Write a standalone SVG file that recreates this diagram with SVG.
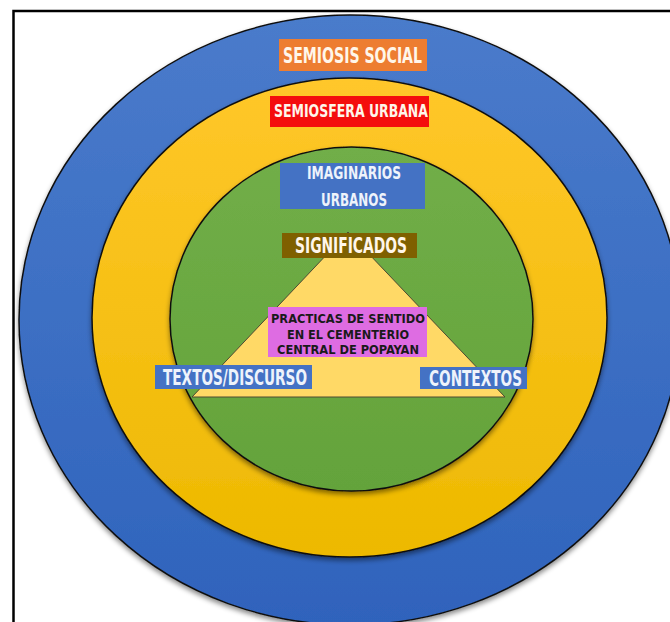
<svg xmlns="http://www.w3.org/2000/svg" width="670" height="622" viewBox="0 0 670 622">
  <defs>
    <linearGradient id="gBlue" x1="0" y1="0" x2="0" y2="1">
      <stop offset="0" stop-color="#4A7BCB"/>
      <stop offset="1" stop-color="#2F63BC"/>
    </linearGradient>
    <linearGradient id="gYellow" x1="0" y1="0" x2="0" y2="1">
      <stop offset="0" stop-color="#FFC72A"/>
      <stop offset="1" stop-color="#EDB900"/>
    </linearGradient>
    <linearGradient id="gGreen" x1="0" y1="0" x2="0" y2="1">
      <stop offset="0" stop-color="#71AE48"/>
      <stop offset="1" stop-color="#64A33B"/>
    </linearGradient>
    <filter id="shadow" x="-10%" y="-10%" width="120%" height="125%">
      <feDropShadow dx="0" dy="3" stdDeviation="2.5" flood-color="#000" flood-opacity="0.45"/>
    </filter>
  </defs>
  <style>
    .ring { stroke: #111; stroke-width: 1.5; filter: url(#shadow); }
    .lbl { font-family: 'Liberation Sans Narrow', 'DejaVu Sans Condensed', 'Liberation Sans', sans-serif; font-weight: bold; text-anchor: middle; }
    .light { fill: #FFF6EA; }
    .lightb { fill: #EEF3FB; }
    .dark { fill: #1A1A1A; }
  </style>
  <rect x="0" y="0" width="670" height="622" fill="#FFFFFF"/>
  <path d="M13.5,622 V11 H670" fill="none" stroke="#000" stroke-width="2.5"/>

  <g id="semiosis-social-ring">
    <ellipse class="ring" cx="350" cy="320" rx="331" ry="305" fill="url(#gBlue)"/>
  </g>
  <g id="semiosfera-urbana-ring">
    <ellipse class="ring" cx="349.5" cy="317.5" rx="257.5" ry="239.5" fill="url(#gYellow)"/>
  </g>
  <g id="imaginarios-urbanos-ring">
    <ellipse class="ring" cx="351.5" cy="319" rx="181.5" ry="172" fill="url(#gGreen)"/>
  </g>
  <g id="triangle">
    <polygon points="348,232 192,397 505,397" fill="#FFD966" stroke="#4D4A33" stroke-width="1"/>
  </g>

  <g id="connectors"></g>

  <g id="semiosis-social">
    <rect x="279" y="39" width="148" height="32" fill="#ED7D31"/>
    <text class="lbl light" x="352.5" y="63" font-size="21" textLength="139" lengthAdjust="spacingAndGlyphs">SEMIOSIS SOCIAL</text>
  </g>
  <g id="semiosfera-urbana">
    <rect x="270" y="96" width="159" height="31" fill="#F40D0D"/>
    <text class="lbl light" x="351" y="117" font-size="18" textLength="154" lengthAdjust="spacingAndGlyphs">SEMIOSFERA URBANA</text>
  </g>
  <g id="imaginarios-urbanos">
    <rect x="280" y="163" width="145" height="46" fill="#4472C4"/>
    <text class="lbl lightb" x="354" y="179" font-size="18" textLength="94" lengthAdjust="spacingAndGlyphs">IMAGINARIOS</text>
    <text class="lbl lightb" x="354" y="206" font-size="18" textLength="66" lengthAdjust="spacingAndGlyphs">URBANOS</text>
  </g>
  <g id="significados">
    <rect x="282" y="233" width="135" height="25" fill="#7F6000"/>
    <text class="lbl light" x="351" y="253" font-size="21" textLength="112" lengthAdjust="spacingAndGlyphs">SIGNIFICADOS</text>
  </g>
  <g id="practicas">
    <rect x="268" y="307" width="159" height="50" fill="#DE6CE2"/>
    <text class="lbl dark" x="348" y="323" font-size="13" textLength="154" lengthAdjust="spacingAndGlyphs">PRACTICAS DE SENTIDO</text>
    <text class="lbl dark" x="348" y="338.5" font-size="13" textLength="122" lengthAdjust="spacingAndGlyphs">EN EL CEMENTERIO</text>
    <text class="lbl dark" x="348" y="354" font-size="13" textLength="142" lengthAdjust="spacingAndGlyphs">CENTRAL DE POPAYAN</text>
  </g>
  <g id="textos-discurso">
    <rect x="155" y="365" width="157" height="24" fill="#4472C4"/>
    <text class="lbl lightb" x="235" y="385" font-size="21" textLength="144" lengthAdjust="spacingAndGlyphs">TEXTOS/DISCURSO</text>
  </g>
  <g id="contextos">
    <rect x="420" y="367" width="107" height="22" fill="#4472C4"/>
    <text class="lbl lightb" x="475.5" y="386" font-size="21" textLength="93" lengthAdjust="spacingAndGlyphs">CONTEXTOS</text>
  </g>
</svg>
